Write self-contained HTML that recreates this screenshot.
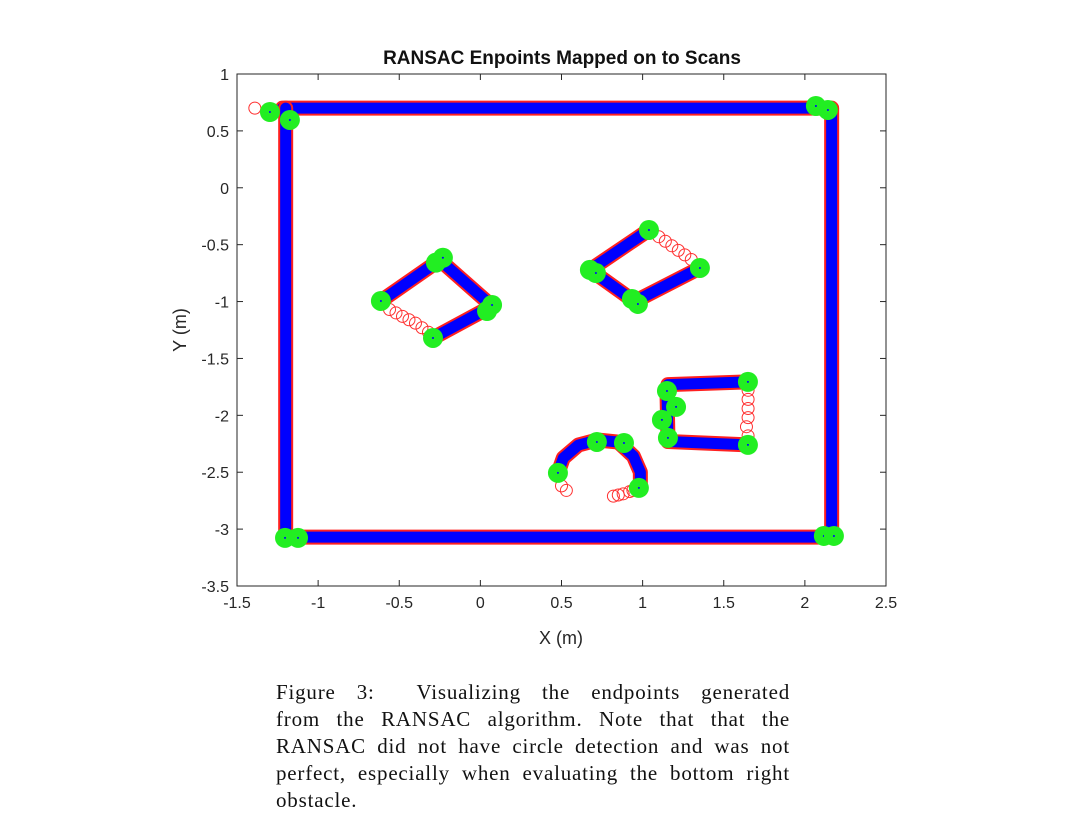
<!DOCTYPE html>
<html><head><meta charset="utf-8">
<style>
body{margin:0;background:#fff;width:1074px;height:817px;overflow:hidden;font-family:"Liberation Sans",sans-serif;}
#cap{position:absolute;left:276px;top:679px;width:514px;font-family:"Liberation Serif",serif;font-size:21px;line-height:27px;color:#111;letter-spacing:0.8px;}
#cap div{text-align:justify;text-align-last:justify;}
#cap div.last{text-align-last:left;}
</style></head><body>
<svg id="chart" width="1074" height="817" style="position:absolute;left:0;top:0">
<g id="marks"></g>
<g id="axes"></g>
</svg>
<div id="cap">
<div>Figure 3:&nbsp; Visualizing the endpoints generated</div>
<div>from the RANSAC algorithm. Note that that the</div>
<div>RANSAC did not have circle detection and was not</div>
<div>perfect, especially when evaluating the bottom right</div>
<div class="last">obstacle.</div>
</div>
<script>
const xTicks=[-1.5,-1,-0.5,0,0.5,1,1.5,2,2.5];
const yTicks=[1,0.5,0,-0.5,-1,-1.5,-2,-2.5,-3,-3.5];
const segments=[
[-1.22,0.70,2.15,0.70],[-1.20,0.70,-1.20,-3.08],[-1.20,-3.07,2.17,-3.07],[2.165,0.70,2.165,-3.07],
[-0.613,-0.995,-0.25,-0.635],[-0.25,-0.635,0.072,-1.04],[0.072,-1.04,-0.292,-1.32],
[0.675,-0.722,1.039,-0.371],[1.353,-0.705,0.95,-1.0],[0.95,-1.0,0.69,-0.735],
[1.156,-1.73,1.649,-1.706],[1.156,-2.23,1.649,-2.26],[1.15,-1.786,1.156,-2.198]
];
const arcPts=[[0.468,-2.55],[0.511,-2.375],[0.604,-2.261],[0.721,-2.217],[0.850,-2.235],[0.943,-2.358],[0.986,-2.499],[0.986,-2.64]];
const redPts=[[-1.39,0.70],[-0.56,-1.07],[-0.52,-1.1],[-0.48,-1.13],[-0.44,-1.16],[-0.40,-1.19],[-0.36,-1.23],[-0.32,-1.27],
[1.10,-0.43],[1.14,-0.47],[1.18,-0.51],[1.22,-0.55],[1.26,-0.59],[1.30,-0.63],
[1.65,-1.78],[1.65,-1.86],[1.65,-1.94],[1.65,-2.02],[1.64,-2.10],[1.65,-2.18],
[0.50,-2.62],[0.53,-2.66],[0.82,-2.71],[0.85,-2.70],[0.88,-2.69],[0.92,-2.67],[0.94,-2.66]];
const endX=[-1.297,-1.174,2.068,2.142,-1.204,-1.124,2.117,2.179,-0.613,-0.274,-0.231,0.041,0.072,-0.292,0.675,0.712,0.934,0.971,1.039,1.353,1.150,1.206,1.119,1.156,1.649,1.649,0.478,0.718,0.885,0.977];
const endY=[0.666,0.596,0.719,0.684,-3.077,-3.077,-3.060,-3.060,-0.995,-0.658,-0.615,-1.083,-1.030,-1.320,-0.722,-0.749,-0.977,-1.021,-0.371,-0.705,-1.786,-1.926,-2.040,-2.198,-1.706,-2.260,-2.506,-2.234,-2.243,-2.638];
const L=237,R=886,T=74,B=586;
const sx=v=>L+(v+1.5)/4*(R-L), sy=v=>T+(1-v)/4.5*(B-T);
const NS="http://www.w3.org/2000/svg";
const marks=document.getElementById('marks'),axes=document.getElementById('axes');
function mk(tag,attrs,parent){const e=document.createElementNS(NS,tag);for(const k in attrs)e.setAttribute(k,attrs[k]);parent.appendChild(e);return e;}
segments.forEach(s=>{
 const r=mk('line',{x1:sx(s[0]),y1:sy(s[1]),x2:sx(s[2]),y2:sy(s[3]),stroke:'#ff2020','stroke-width':15,'stroke-linecap':'round'},marks);
 
 
 const b=mk('line',{x1:sx(s[0]),y1:sy(s[1]),x2:sx(s[2]),y2:sy(s[3]),stroke:'#0000ff','stroke-width':11,'stroke-linecap':'round'},marks);
 
 
});
const ap=arcPts.map(p=>sx(p[0])+','+sy(p[1])).join(' ');
const a1=mk('polyline',{points:ap,fill:'none',stroke:'#ff2020','stroke-width':15,'stroke-linejoin':'round'},marks);


const a2=mk('polyline',{points:ap,fill:'none',stroke:'#0000ff','stroke-width':11,'stroke-linejoin':'round'},marks);


redPts.forEach(p=>{
 const c=mk('circle',{cx:sx(p[0]),cy:sy(p[1]),r:6,fill:'none',stroke:'#ff3030','stroke-width':1},marks);
 
 
});
endX.forEach((x,i)=>{
 const c=mk('circle',{cx:sx(x),cy:sy(endY[i]),r:10,fill:'#22ee22'},marks);
 
 
 mk('circle',{cx:sx(x),cy:sy(endY[i]),r:1,fill:'#0000ff'},marks);
});
const box=mk('rect',{x:L,y:T,width:R-L,height:B-T,fill:'none',stroke:'#262626','stroke-width':1},axes);


xTicks.forEach(v=>{
 const x=sx(v);
 mk('line',{x1:x,y1:B,x2:x,y2:B-6,stroke:'#262626'},axes);
 mk('line',{x1:x,y1:T,x2:x,y2:T+6,stroke:'#262626'},axes);
 const t=mk('text',{x:x,y:B+22,'text-anchor':'middle','font-size':16,fill:'#262626'},axes);
 t.textContent=String(v);
 
 
});
yTicks.forEach(v=>{
 const y=sy(v);
 mk('line',{x1:L,y1:y,x2:L+6,y2:y,stroke:'#262626'},axes);
 mk('line',{x1:R,y1:y,x2:R-6,y2:y,stroke:'#262626'},axes);
 const t=mk('text',{x:L-8,y:y+6,'text-anchor':'end','font-size':16,fill:'#262626'},axes);
 t.textContent=String(v);
 
 
});
</script>
<svg width="1074" height="817" style="position:absolute;left:0;top:0;pointer-events:none">
<text x="562" y="64" text-anchor="middle" font-size="19" font-weight="bold" fill="#111" font-family="Liberation Sans">RANSAC Enpoints Mapped on to Scans</text>
<text x="561" y="644" text-anchor="middle" font-size="18" fill="#262626" font-family="Liberation Sans">X (m)</text>
<text x="0" y="0" transform="translate(186,330) rotate(-90)" text-anchor="middle" font-size="18" fill="#262626" font-family="Liberation Sans">Y (m)</text>
</svg>
</body></html>
